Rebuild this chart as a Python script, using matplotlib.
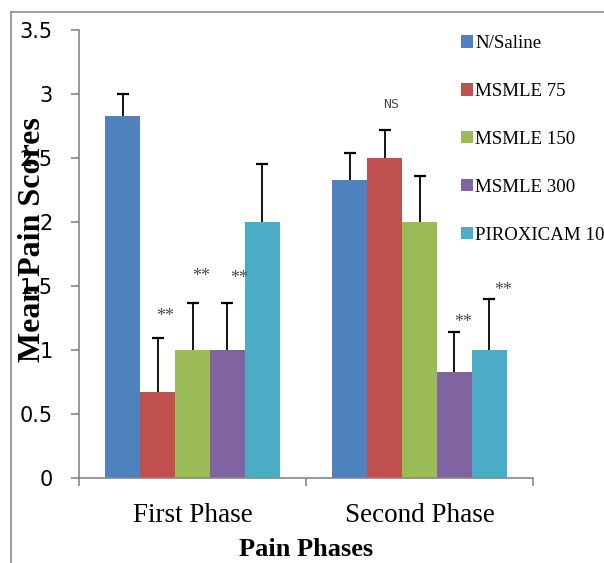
import numpy as np
import matplotlib
matplotlib.use("Agg")
import matplotlib.pyplot as plt
from matplotlib.lines import Line2D

# data
phases = ["First Phase", "Second Phase"]
groups = ["N/Saline", "MSMLE 75", "MSMLE 150", "MSMLE 300", "PIROXICAM 10"]
means = [
    [2.83, 2.33],   # N/Saline
    [0.67, 2.50],   # MSMLE 75
    [1.00, 2.00],   # MSMLE 150
    [1.00, 0.83],   # MSMLE 300
    [2.00, 1.00],   # PIROXICAM 10
]
errors = [
    [0.17, 0.21],
    [0.42, 0.22],
    [0.37, 0.36],
    [0.37, 0.31],
    [0.45, 0.40],
]
# (series index, phase index, text, dx px, dy px above error bar)
marks = [
    (1, 0, "**", 8, 25),
    (2, 0, "**", 9, 29),
    (3, 0, "**", 12, 27),
    (1, 1, "NS", 7, 25),
    (3, 1, "**", 9, 13),
    (4, 1, "**", 14, 11),
]
colors = ["#4F81BD", "#C0504D", "#9BBB59", "#8064A2", "#4BACC6"]

W, H = 604, 563
fig = plt.figure(figsize=(W / 100, H / 100), dpi=100)
ax = fig.add_axes([79 / W, 1 - 478 / H, 454 / W, 448 / H])

x = np.arange(len(phases))
bw = 0.154
for i, g in enumerate(groups):
    xs = x + (i - 2) * bw
    ax.bar(xs, means[i], bw, color=colors[i], label=g, zorder=2)
    eb = ax.errorbar(xs, means[i], yerr=[np.zeros(len(phases)), errors[i]],
                     fmt="none", ecolor="black", elinewidth=1.3,
                     capsize=4.3, capthick=1.6, zorder=3)
    eb[1][0].set_visible(False)  # hide the lower cap

for si, pi, txt, dx, dy in marks:
    xb = x[pi] + (si - 2) * bw
    yb = means[si][pi] + errors[si][pi]
    if txt == "NS":
        kw = dict(fontsize=9.5, family="DejaVu Sans Mono")
        off = 0
    else:
        kw = dict(fontsize=13, family="Liberation Serif")
        off = -3  # asterisks sit high in the em box
    ax.annotate(txt, (xb, yb), xytext=(dx * 0.72, (dy + off) * 0.72),
                textcoords="offset points", ha="center", va="center",
                color="#4a4a4a", **kw)

ax.set_xlim(-0.5, 1.5)
ax.set_ylim(0, 3.5)
ax.set_yticks(np.arange(0, 3.51, 0.5))
ax.set_yticklabels(["0", "0.5", "1", "1.5", "2", "2.5", "3", "3.5"])
ax.set_xticks([-0.5, 0.5, 1.5], minor=False)
ax.set_xticklabels(["", "", ""])
ax.set_xticks(x, minor=True)
ax.set_xticklabels(phases, minor=True, fontsize=19.5, family="Liberation Serif")
ax.tick_params(axis="x", which="minor", length=0, pad=18)
ax.tick_params(axis="x", which="major", length=6, color="#868686", width=1.2,
               direction="out")
ax.tick_params(axis="y", length=6, color="#868686", width=1.2, pad=13,
               labelsize=15)

for s in ["top", "right"]:
    ax.spines[s].set_visible(False)
for s in ["left", "bottom"]:
    ax.spines[s].set_color("#868686")
    ax.spines[s].set_linewidth(1.2)

fig.text(33 / W, 1 - 240 / H, "Mean Pain Scores", rotation=90, ha="center",
         va="center", fontsize=23, fontweight="bold", family="Liberation Serif")
fig.text(306 / W, 1 - 549 / H, "Pain Phases", ha="center", va="center",
         fontsize=19, fontweight="bold", family="Liberation Serif")

fig.legend(loc="upper left", bbox_to_anchor=(461 / W, 1 - 35 / H),
           frameon=False, borderpad=0, borderaxespad=0, handlelength=0.63,
           handleheight=0.63, handletextpad=0.12, labelspacing=1.64,
           prop={"family": "Liberation Serif", "size": 13.6})

# outer frame (top and left edges visible in the crop)
fig.add_artist(Line2D([11 / W, 1], [1 - 12 / H, 1 - 12 / H],
                      transform=fig.transFigure, color="#8c8c8c", lw=1.2))
fig.add_artist(Line2D([11 / W, 11 / W], [0, 1 - 12 / H],
                      transform=fig.transFigure, color="#8c8c8c", lw=1.2))

fig.savefig("out.png", dpi=100)
